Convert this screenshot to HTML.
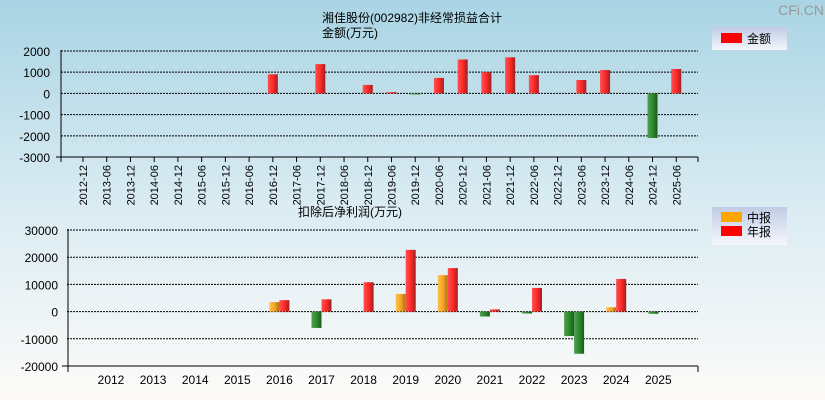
<!DOCTYPE html>
<html><head><meta charset="utf-8"><style>
body{margin:0;width:825px;height:400px;overflow:hidden;font-family:"Liberation Sans","Noto Sans CJK SC",sans-serif}
#bg{position:absolute;left:0;top:0;width:825px;height:400px;background:linear-gradient(#a9d4e4,#d9ebf2 50%,#fdfbf9)}
svg{position:absolute;left:0;top:0}
</style></head><body>
<div id="bg"></div>
<svg id="c" width="825" height="400">
<defs>
<linearGradient id="gr" x1="0" x2="1"><stop offset="0" stop-color="#ff5050"/><stop offset="0.5" stop-color="#ff2a2a"/><stop offset="1" stop-color="#a02020"/></linearGradient>
<linearGradient id="gg" x1="0" x2="1"><stop offset="0" stop-color="#50a050"/><stop offset="0.5" stop-color="#2e8b2e"/><stop offset="1" stop-color="#1a5a1a"/></linearGradient>
<linearGradient id="go" x1="0" x2="1"><stop offset="0" stop-color="#ffc050"/><stop offset="0.5" stop-color="#f5a623"/><stop offset="1" stop-color="#b07010"/></linearGradient>
<linearGradient id="lg" x1="0" y1="0" x2="0" y2="1"><stop offset="0" stop-color="#c0cce4"/><stop offset="1" stop-color="#f4f6fb"/></linearGradient>
</defs>
<text x="824" y="15" text-anchor="end" font-size="14" fill="#999">CFi.CN</text>
</svg>
<script>
const topCats=["2012-12","2013-06","2013-12","2014-06","2014-12","2015-06","2015-12","2016-06","2016-12","2017-06","2017-12","2018-06","2018-12","2019-06","2019-12","2020-06","2020-12","2021-06","2021-12","2022-06","2022-12","2023-06","2023-12","2024-06","2024-12","2025-06"];
const topVals=[null,null,null,null,null,null,null,null,900,null,1380,null,400,60,-40,730,1600,1000,1700,860,null,630,1100,null,-2100,1150];
const topTicks=[2000,1000,0,-1000,-2000,-3000];
const botCats=["2012","2013","2014","2015","2016","2017","2018","2019","2020","2021","2022","2023","2024","2025"];
const midVals=[null,null,null,null,3500,-6000,null,6500,13400,-1800,-700,-9000,1600,-800];
const annVals=[null,null,null,null,4200,4500,10800,22700,16000,800,8700,-15500,12000,null];
const botTicks=[30000,20000,10000,0,-10000,-20000];
const S=document.getElementById('c'),NS='http://www.w3.org/2000/svg';
function mk(t,a,txt){const e=document.createElementNS(NS,t);for(const k in a)e.setAttribute(k,a[k]);if(txt!=null)e.textContent=txt;S.appendChild(e);return e;}
// top
const tY=v=>93.4-v*0.02122, tX=i=>83+i*23.73;
let e=mk('text',{x:412,y:22,'text-anchor':'middle','font-size':12},'湘佳股份(002982)非经常损益合计');

e=mk('text',{x:350,y:37,'text-anchor':'middle','font-size':12},'金额(万元)');

topTicks.forEach(t=>{const y=tY(t);
 e=mk('line',{x1:61,x2:698,y1:y,y2:y,stroke:'#000','stroke-dasharray':'2,1'});
 e=mk('text',{x:50,y:y+5,'text-anchor':'end','font-size':12},t);});
mk('line',{x1:61,x2:61,y1:tY(2000)-1,y2:tY(-3000),stroke:'#000'});
mk('line',{x1:56,x2:698,y1:tY(-3000),y2:tY(-3000),stroke:'#000'});
mk('line',{x1:61,x2:61,y1:tY(-3000),y2:tY(-3000)+5,stroke:'#000'});
topCats.forEach((c,i)=>{const x=tX(i);
 mk('line',{x1:x,x2:x,y1:tY(-3000),y2:tY(-3000)+5,stroke:'#000'});
 e=mk('text',{transform:`translate(${x+4},${tY(-3000)+8}) rotate(-90)`,'text-anchor':'end','font-size':11},c);
 
 const v=topVals[i];if(v==null)return;
 const y0=tY(0),y1=tY(v);
 e=mk('rect',{x:x-5,y:Math.min(y0,y1),width:10,height:Math.max(1,Math.abs(y1-y0)),fill:v>=0?'url(#gr)':'url(#gg)'});
 });
mk('line',{x1:698,x2:698,y1:tY(-3000),y2:tY(-3000)+5,stroke:'#000'});
e=mk('rect',{x:712,y:27,width:75,height:23,fill:'url(#lg)'});
mk('rect',{x:721,y:33,width:21,height:10,fill:'#f00'});
e=mk('text',{x:747,y:43,'font-size':12},'金额');
// bottom
const bY=v=>311.6-v*0.00272, bX=i=>111+i*42.1;
e=mk('text',{x:350,y:216,'text-anchor':'middle','font-size':12},'扣除后净利润(万元)');
botTicks.forEach(t=>{const y=bY(t);
 e=mk('line',{x1:67,x2:698,y1:y,y2:y,stroke:'#000','stroke-dasharray':'2,1'});
 e=mk('text',{x:58,y:y+5,'text-anchor':'end','font-size':12},t);});
mk('line',{x1:68,x2:68,y1:bY(30000)-1,y2:bY(-20000),stroke:'#000'});
mk('line',{x1:62,x2:698,y1:bY(-20000),y2:bY(-20000),stroke:'#000'});
mk('line',{x1:68,x2:68,y1:bY(-20000),y2:bY(-20000)+6,stroke:'#000'});
mk('line',{x1:698,x2:698,y1:bY(-20000),y2:bY(-20000)+6,stroke:'#000'});
botCats.forEach((c,i)=>{const x=bX(i);
 e=mk('text',{x:x,y:bY(-20000)+18,'text-anchor':'middle','font-size':12},c);
 [[midVals[i],x-10,'url(#go)','mid'],[annVals[i],x,'url(#gr)','annual']].forEach(([v,bx,f,n])=>{if(v==null)return;
  const y0=bY(0),y1=bY(v);
  const b=mk('rect',{x:bx,y:Math.min(y0,y1),width:10,height:Math.max(1,Math.abs(y1-y0)),fill:v>=0?f:'url(#gg)'});
  });});
e=mk('rect',{x:712,y:207,width:75,height:38,fill:'url(#lg)'});
mk('rect',{x:721,y:212,width:21,height:10,fill:'#ffa500'});
e=mk('text',{x:747,y:222,'font-size':12},'中报');
mk('rect',{x:721,y:226,width:21,height:10,fill:'#f00'});
e=mk('text',{x:747,y:236,'font-size':12},'年报');
</script>
</body></html>
